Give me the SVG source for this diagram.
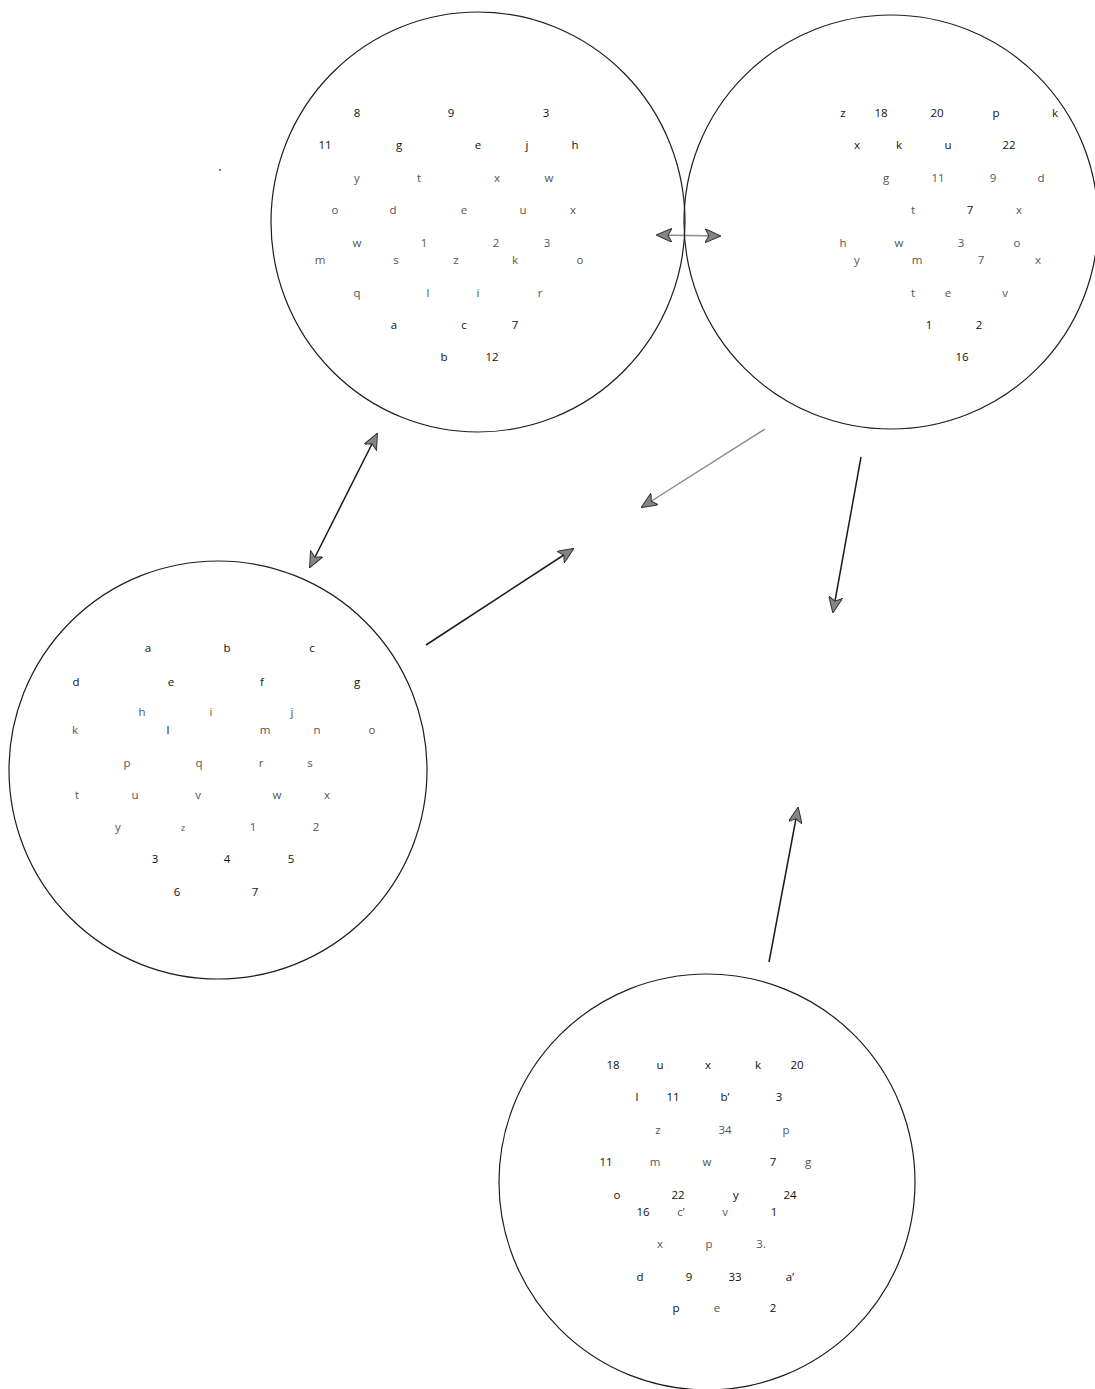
<svg xmlns="http://www.w3.org/2000/svg" width="1095" height="1389" viewBox="0 0 1095 1389">
  <style>
    .ring { fill: none; stroke: #1e1e1e; stroke-width: 1.2; }
    text { font-family: "Open Sans", "Liberation Sans", sans-serif; font-size: 11.5px; text-anchor: middle; }
    .d { fill: #111; }
    .l { fill: #555; }
    .link { fill: none; stroke: #1a1a1a; stroke-width: 1.5; }
    .link.soft { stroke: #8a8a8a; stroke-width: 1.4; }
  </style>
  <defs>
    <marker id="head" viewBox="0 0 16 14" refX="15" refY="7" markerWidth="16" markerHeight="14" markerUnits="userSpaceOnUse" orient="auto-start-reverse">
      <path d="M0,0 L16,7 L0,14 L4,7 Z" fill="#858585" stroke="#333" stroke-width="1"/>
    </marker>
  </defs>

  <rect width="1095" height="1389" fill="#fff"/>

  <!-- connectors -->
  <g id="connectors">
    <line class="link soft" x1="657" y1="235" x2="720" y2="236" marker-start="url(#head)" marker-end="url(#head)"/>
    <line class="link" x1="310" y1="567" x2="377" y2="434" marker-start="url(#head)" marker-end="url(#head)"/>
    <line class="link" x1="426" y1="645" x2="573" y2="549" marker-end="url(#head)"/>
    <line class="link soft" x1="765" y1="429" x2="642" y2="507" marker-end="url(#head)"/>
    <line class="link" x1="861" y1="457" x2="833" y2="612" marker-end="url(#head)"/>
    <line class="link" x1="769" y1="962" x2="798" y2="808" marker-end="url(#head)"/>
  </g>

  <circle cx="220" cy="170" r="1" fill="#444"/>

  <!-- top-left set -->
  <g id="set-a">
    <ellipse class="ring" cx="478" cy="222" rx="207" ry="210"/>
    <text class="d" x="357" y="117">8</text><text class="d" x="451" y="117">9</text><text class="d" x="546" y="117">3</text>
    <text class="d" x="325" y="149">11</text><text class="d" x="399" y="149">g</text><text class="d" x="478" y="149">e</text><text class="d" x="527" y="149">j</text><text class="d" x="575" y="149">h</text>
    <text class="l" x="357" y="182">y</text><text class="l" x="419" y="182">t</text><text class="l" x="497" y="182">x</text><text class="l" x="549" y="182">w</text>
    <text class="l" x="335" y="214">o</text><text class="l" x="393" y="214">d</text><text class="l" x="464" y="214">e</text><text class="l" x="523" y="214">u</text><text class="l" x="573" y="214">x</text>
    <text class="l" x="357" y="247">w</text><text class="l" x="424" y="247">1</text><text class="l" x="496" y="247">2</text><text class="l" x="547" y="247">3</text>
    <text class="l" x="320" y="264">m</text><text class="l" x="396" y="264">s</text><text class="l" x="456" y="264">z</text><text class="l" x="515" y="264">k</text><text class="l" x="580" y="264">o</text>
    <text class="l" x="357" y="297">q</text><text class="l" x="428" y="297">l</text><text class="l" x="478" y="297">i</text><text class="l" x="540" y="297">r</text>
    <text class="d" x="394" y="329">a</text><text class="d" x="464" y="329">c</text><text class="d" x="515" y="329">7</text>
    <text class="d" x="444" y="361">b</text><text class="d" x="492" y="361">12</text>
  </g>

  <!-- top-right set -->
  <g id="set-b">
    <circle class="ring" cx="891" cy="222" r="207"/>
    <text class="d" x="843" y="117">z</text><text class="d" x="881" y="117">18</text><text class="d" x="937" y="117">20</text><text class="d" x="996" y="117">p</text><text class="d" x="1055" y="117">k</text>
    <text class="d" x="857" y="149">x</text><text class="d" x="899" y="149">k</text><text class="d" x="948" y="149">u</text><text class="d" x="1009" y="149">22</text>
    <text class="l" x="886" y="182">g</text><text class="l" x="938" y="182">11</text><text class="l" x="993" y="182">9</text><text class="l" x="1041" y="182">d</text>
    <text class="l" x="913" y="214">t</text><text class="d" x="970" y="214">7</text><text class="l" x="1019" y="214">x</text>
    <text class="l" x="843" y="247">h</text><text class="l" x="899" y="247">w</text><text class="l" x="961" y="247">3</text><text class="l" x="1017" y="247">o</text>
    <text class="l" x="857" y="264">y</text><text class="l" x="917" y="264">m</text><text class="l" x="981" y="264">7</text><text class="l" x="1038" y="264">x</text>
    <text class="l" x="913" y="297">t</text><text class="l" x="948" y="297">e</text><text class="l" x="1005" y="297">v</text>
    <text class="d" x="929" y="329">1</text><text class="d" x="979" y="329">2</text>
    <text class="d" x="962" y="361">16</text>
  </g>

  <!-- left set -->
  <g id="set-c">
    <circle class="ring" cx="218" cy="770" r="209"/>
    <text class="d" x="148" y="652">a</text><text class="d" x="227" y="652">b</text><text class="d" x="312" y="652">c</text>
    <text class="d" x="76" y="686">d</text><text class="d" x="171" y="686">e</text><text class="d" x="262" y="686">f</text><text class="d" x="357" y="686">g</text>
    <text class="l" x="142" y="716">h</text><text class="l" x="211" y="716">i</text><text class="l" x="292" y="716">j</text>
    <text class="l" x="75" y="734">k</text><text class="d" x="168" y="734">l</text><text class="l" x="265" y="734">m</text><text class="l" x="317" y="734">n</text><text class="l" x="372" y="734">o</text>
    <text class="l" x="127" y="767">p</text><text class="l" x="199" y="767">q</text><text class="l" x="261" y="767">r</text><text class="l" x="310" y="767">s</text>
    <text class="l" x="77" y="799">t</text><text class="l" x="135" y="799">u</text><text class="l" x="198" y="799">v</text><text class="l" x="277" y="799">w</text><text class="l" x="327" y="799">x</text>
    <text class="l" x="118" y="831">y</text><text class="l" x="183" y="831" style="font-size:9px">z</text><text class="l" x="253" y="831">1</text><text class="l" x="316" y="831">2</text>
    <text class="d" x="155" y="863">3</text><text class="d" x="227" y="863">4</text><text class="d" x="291" y="863">5</text>
    <text class="d" x="177" y="896">6</text><text class="d" x="255" y="896">7</text>
  </g>

  <!-- bottom set -->
  <g id="set-d">
    <circle class="ring" cx="707" cy="1182" r="208"/>
    <text class="d" x="613" y="1069">18</text><text class="d" x="660" y="1069">u</text><text class="d" x="708" y="1069">x</text><text class="d" x="758" y="1069">k</text><text class="d" x="797" y="1069">20</text>
    <text class="d" x="637" y="1101">l</text><text class="d" x="673" y="1101">11</text><text class="d" x="725" y="1101">b’</text><text class="d" x="779" y="1101">3</text>
    <text class="l" x="658" y="1134">z</text><text class="l" x="725" y="1134">34</text><text class="l" x="786" y="1134">p</text>
    <text class="d" x="606" y="1166">11</text><text class="l" x="655" y="1166">m</text><text class="l" x="707" y="1166">w</text><text class="d" x="773" y="1166">7</text><text class="l" x="808" y="1166">g</text>
    <text class="d" x="617" y="1199">o</text><text class="d" x="678" y="1199">22</text><text class="d" x="736" y="1199">y</text><text class="d" x="790" y="1199">24</text>
    <text class="d" x="643" y="1216">16</text><text class="l" x="681" y="1216">c’</text><text class="l" x="725" y="1216">v</text><text class="d" x="774" y="1216">1</text>
    <text class="l" x="660" y="1248">x</text><text class="l" x="709" y="1248">p</text><text class="l" x="761" y="1248">3.</text>
    <text class="d" x="640" y="1281">d</text><text class="d" x="689" y="1281">9</text><text class="d" x="735" y="1281">33</text><text class="d" x="790" y="1281">a’</text>
    <text class="d" x="676" y="1312">p</text><text class="l" x="717" y="1312">e</text><text class="d" x="773" y="1312">2</text>
  </g>
</svg>
